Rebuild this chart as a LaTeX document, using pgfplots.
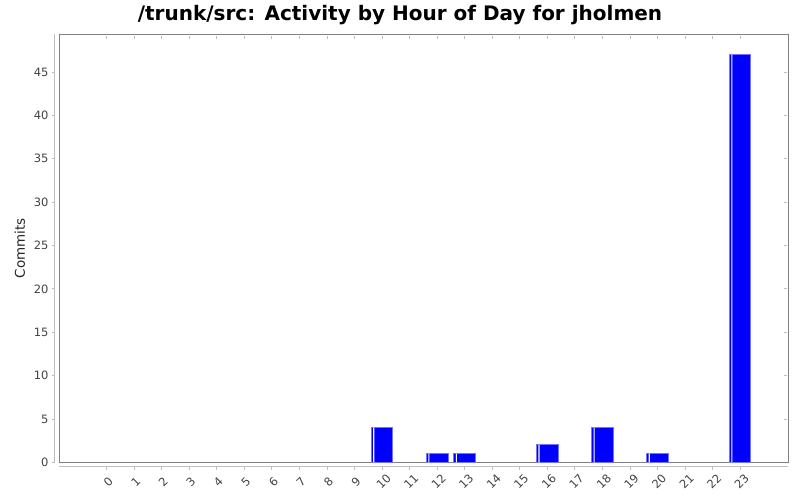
\documentclass[border=0pt]{standalone}
\usepackage{pgfplots}
\pgfplotsset{compat=1.18}
\usepackage{fontspec}
\setmainfont{DejaVu Sans}
\definecolor{barblue}{RGB}{0,0,255}
\definecolor{framegray}{RGB}{128,128,128}
\definecolor{axgray}{RGB}{190,190,190}
\definecolor{ticktext}{RGB}{68,68,68}
\begin{document}
\begin{tikzpicture}[x=1pt,y=1pt]
\useasboundingbox (0,0) rectangle (800,500);
\fill[white] (0,0) rectangle (800,500);
\begin{axis}[
   at={(59pt,37.7pt)}, anchor=south west,
   scale only axis,
   width=729pt, height=428pt,
   xmin=-1.73, xmax=24.74,
   ymin=0, ymax=49.35,
   ybar,
   bar width=0.79,
   axis line style={framegray, line width=1pt},
   xtick={0,...,23},
   ytick={0,5,...,45},
   tick align=outside,
   major tick length=3pt,
   xtick style={axgray, line width=0.8pt, yshift=-4.4pt},
   ytick style={axgray, line width=0.8pt, xshift=-4.3pt},
   xticklabel style={rotate=45, anchor=center, font=\fontsize{11.5}{13}\selectfont, text=ticktext, xshift=1.06pt, yshift=-1.06pt},
   xticklabel shift={16.4pt},
   y tick label style={font=\fontsize{11.5}{13}\selectfont, text=ticktext, xshift=-4pt},
   /pgf/number format/assume math mode=true,
   ylabel={Commits},
   ylabel shift={2pt},
   ylabel style={font=\fontsize{13.5}{15}\selectfont, text=black!85},
   clip=false,
]
\addplot[fill=barblue, draw=barblue!55!white, line width=1pt, bar shift=0]
   coordinates {(10,4) (12,1) (13,1) (16,2) (18,4) (20,1) (23,47)};
\addplot[fill=white, draw=none, bar width=0.04, bar shift=-0.3]
   coordinates {(10,4) (12,1) (13,1) (16,2) (18,4) (20,1) (23,47)};
\draw[axgray, line width=0.8pt] ([xshift=-4.3pt]rel axis cs:0,0) -- ([xshift=-4.3pt]rel axis cs:0,1);
\draw[axgray, line width=0.8pt] ([yshift=-4.4pt]rel axis cs:0,0) -- ([yshift=-4.4pt]rel axis cs:1,0);
\end{axis}
\node[anchor=base, font=\fontsize{20}{24}\selectfont\bfseries] at (400,479) {/trunk/src: Activity by Hour of Day for jholmen};
\end{tikzpicture}
\end{document}
